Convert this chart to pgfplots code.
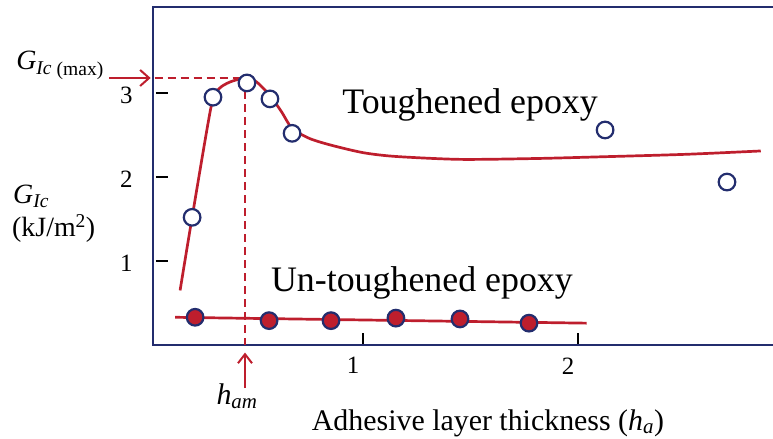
\documentclass[border=0pt]{standalone}
\usepackage{fontspec}
\setmainfont{Liberation Serif}
\usepackage{pgfplots}
\pgfplotsset{compat=1.18}
\usetikzlibrary{arrows.meta}
\definecolor{cred}{HTML}{BE1E2D}
\definecolor{cnavy}{HTML}{232D6E}
\newcommand{\fs}[1]{\fontsize{#1}{#1}\selectfont}
\begin{document}
\begin{tikzpicture}
\useasboundingbox (-153bp,-94bp) rectangle (620bp,345bp);
\begin{axis}[
  scale only axis, width=620bp, height=338bp,
  xmin=0.023, xmax=2.907, ymin=0, ymax=4.024,
  axis line style={draw=none},
  clip=false,
  xtick={1,2}, ytick={1,2,3},
  xtick pos=bottom, ytick pos=left,
  tick align=inside,
  major tick length=12bp,
  tick style={black, line width=1.5bp},
  ytick style={xshift=3bp},
  tick label style={font=\fs{25}, /pgf/number format/assume math mode=true},
  yticklabel style={xshift=-17bp, yshift=-2bp},
  xticklabel style={xshift=-10bp, yshift=-9bp},
]
\draw[cnavy, line width=2bp] (rel axis cs:1,0) -- (rel axis cs:0,0) -- (rel axis cs:0,1) -- (rel axis cs:1,1);

% dashed guide lines
\draw[cred, line width=1.8bp, dash pattern=on 8bp off 5bp] (axis cs:0.03,3.179) -- (axis cs:0.451,3.179) -- (axis cs:0.451,0);

% toughened curve
\addplot[cred, line width=2.7bp, smooth, tension=0.45, no marks] coordinates {
 (0.149,0.65) (0.205,1.52) (0.295,2.86) (0.33,3.05) (0.38,3.13) (0.44,3.17)
 (0.50,3.14) (0.567,2.97) (0.62,2.78) (0.67,2.58) (0.75,2.46) (0.85,2.38)
 (1.0,2.29) (1.15,2.245) (1.45,2.21) (1.8,2.22) (2.1,2.24) (2.5,2.27) (2.85,2.31)
};
% untoughened line
\addplot[cred, line width=2.7bp, no marks] coordinates {(0.126,0.33) (2.04,0.26)};

% toughened data
\addplot[only marks, mark=*, mark size=8.3bp, mark options={fill=white, draw=cnavy, line width=2.2bp}] coordinates {
 (0.205,1.52) (0.302,2.95) (0.46,3.12) (0.567,2.93) (0.67,2.52) (2.126,2.56) (2.693,1.94)
};
% untoughened data
\addplot[only marks, mark=*, mark size=8.3bp, mark options={fill=cred, draw=cnavy, line width=2.2bp}] coordinates {
 (0.219,0.33) (0.563,0.29) (0.851,0.29) (1.153,0.32) (1.451,0.31) (1.772,0.26)
};

% arrows
\draw[cred, line width=2bp, -{Straight Barb[length=9bp, width=16bp]}] (axis cs:-0.181,3.179) -- (axis cs:0.012,3.179);
\draw[cred, line width=2bp, -{Straight Barb[length=9bp, width=14bp]}] (axis cs:0.451,-0.512) -- (axis cs:0.451,-0.09);

% texts
\node[anchor=base, font=\fs{36}, inner sep=0] at (axis cs:1.498,2.762) {Toughened epoxy};
\node[anchor=base, font=\fs{36}, inner sep=0] at (axis cs:1.274,0.631) {Un-toughened epoxy};
\node[anchor=base, font=\fs{30}, inner sep=0] at (axis cs:1.581,-1.012) {Adhesive layer thickness ({\itshape h}\textsubscript{\itshape a})};
\node[anchor=base, font=\fs{30}, inner sep=0] at (axis cs:0.414,-0.714) {{\itshape h}\textsubscript{\itshape am}};
\node[anchor=base west, font=\fs{28}, inner sep=0] at (axis cs:-0.614,3.274) {{\itshape G}\textsubscript{\itshape Ic}\,\textsubscript{(max)}};
\node[anchor=base west, font=\fs{28}, inner sep=0] at (axis cs:-0.628,1.69) {{\itshape G}\textsubscript{\itshape Ic}};
\node[anchor=base west, font=\fs{28}, inner sep=0] at (axis cs:-0.633,1.286) {(kJ/m\textsuperscript{2})};
\end{axis}
\end{tikzpicture}
\end{document}
